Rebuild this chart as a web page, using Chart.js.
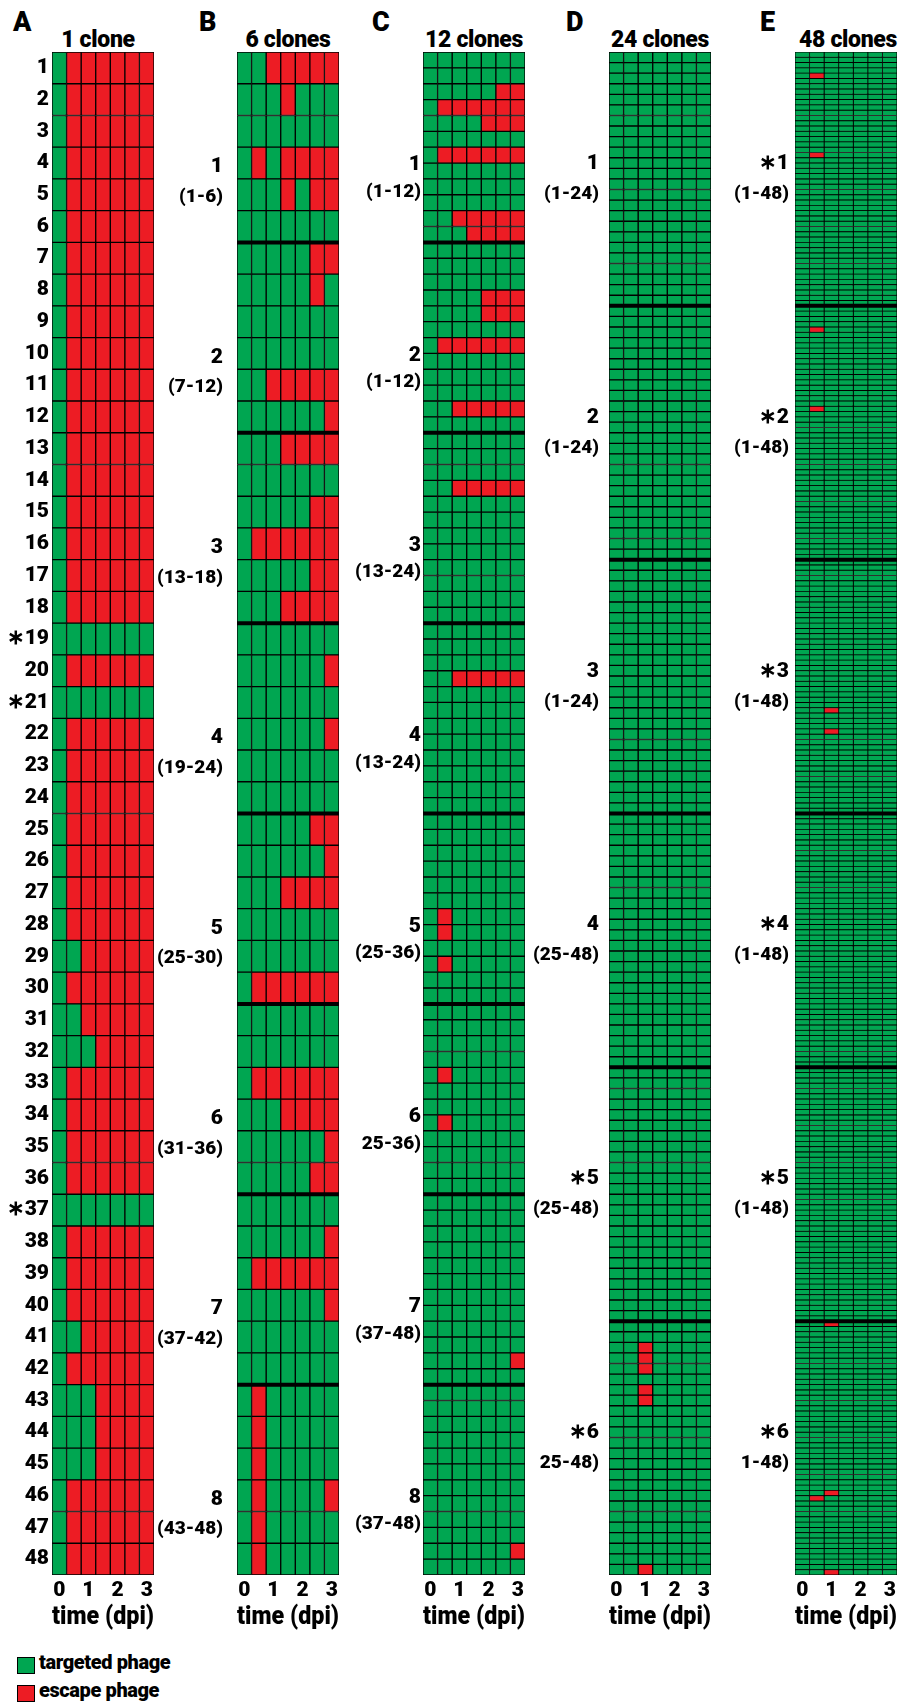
<!DOCTYPE html>
<html><head><meta charset="utf-8">
<script src="https://cdn.jsdelivr.net/npm/chart.js@4.4.1/dist/chart.umd.min.js"></script>
<style>
html,body{margin:0;padding:0;background:#fff;}
body{width:905px;height:1707px;position:relative;overflow:hidden;font-family:Roboto,"Liberation Sans",Arial,sans-serif;color:#000;}
canvas{position:absolute;top:0;}
.lt{position:absolute;font-weight:900;font-size:27px;line-height:30px;top:7px;}
.tt{position:absolute;font-weight:900;font-size:23px;line-height:26px;top:27px;width:142px;text-align:center;white-space:nowrap;letter-spacing:-0.3px;}
.lg{position:absolute;left:39px;font-weight:900;font-size:20px;line-height:24px;white-space:nowrap;letter-spacing:-0.4px;}
.sw{position:absolute;left:17px;width:16px;height:15px;border:1px solid #000;}
</style></head>
<body>
<div class="lt" style="left:13px">A</div>
<div class="lt" style="left:199px">B</div>
<div class="lt" style="left:372px">C</div>
<div class="lt" style="left:566px">D</div>
<div class="lt" style="left:760px">E</div>
<div class="tt" style="left:27px">1 clone</div>
<div class="tt" style="left:217px">6 clones</div>
<div class="tt" style="left:403px">12 clones</div>
<div class="tt" style="left:589px">24 clones</div>
<div class="tt" style="left:777px">48 clones</div>
<div class="sw" style="top:1657px;background:#00A651"></div>
<div class="lg" style="top:1650px">targeted phage</div>
<div class="sw" style="top:1685px;background:#ED1C24"></div>
<div class="lg" style="top:1678px">escape phage</div>

<canvas id="cA" width="205" height="1650" style="left:-43px"></canvas>
<canvas id="cB" width="205" height="1650" style="left:142px"></canvas>
<canvas id="cC" width="205" height="1650" style="left:328px"></canvas>
<canvas id="cD" width="205" height="1650" style="left:514px"></canvas>
<canvas id="cE" width="205" height="1650" style="left:700px"></canvas>

<script>
// ---------- data ----------
const timePoints = ['0','0.5','1','1.5','2','2.5','3'];
const tickCols = [0, 2, 4, 6];
const tickLabels = ['0', '1', '2', '3'];
const GREEN = '#00A651';
const RED = '#ED1C24';

// Panel A: 1 clone, 48 replicates (G = targeted, R = escape)
const panelA = [
 'GRRRRRR','GRRRRRR','GRRRRRR','GRRRRRR','GRRRRRR','GRRRRRR',
 'GRRRRRR','GRRRRRR','GRRRRRR','GRRRRRR','GRRRRRR','GRRRRRR',
 'GRRRRRR','GRRRRRR','GRRRRRR','GRRRRRR','GRRRRRR','GRRRRRR',
 'GGGGGGG','GRRRRRR','GGGGGGG','GRRRRRR','GRRRRRR','GRRRRRR',
 'GRRRRRR','GRRRRRR','GRRRRRR','GRRRRRR','GGRRRRR','GRRRRRR',
 'GGRRRRR','GGGRRRR','GRRRRRR','GRRRRRR','GRRRRRR','GRRRRRR',
 'GGGGGGG','GRRRRRR','GRRRRRR','GRRRRRR','GGRRRRR','GRRRRRR',
 'GGGRRRR','GGGRRRR','GGGRRRR','GRRRRRR','GRRRRRR','GRRRRRR'
];
const rowLabelsA = ['1','2','3','4','5','6','7','8','9','10','11','12','13','14','15','16',
 '17','18','\u221719','20','\u221721','22','23','24','25','26','27','28','29','30','31','32',
 '33','34','35','36','\u221737','38','39','40','41','42','43','44','45','46','47','48'];

// Panel B: 6 clones, 8 groups of 6
const panelB = [
 'GGRRRRR','GGGRGGG','GGGGGGG','GRGRRRR','GGGRGRR','GGGGGGG',
 'GGGGGRR','GGGGGRG','GGGGGGG','GGGGGGG','GGRRRRR','GGGGGGR',
 'GGGRRRR','GGGGGGG','GGGGGRR','GRRRRRR','GGGGGRR','GGGRRRR',
 'GGGGGGG','GGGGGGR','GGGGGGG','GGGGGGR','GGGGGGG','GGGGGGG',
 'GGGGGRR','GGGGGGR','GGGRRRR','GGGGGGG','GGGGGGG','GRRRRRR',
 'GGGGGGG','GGGGGGG','GRRRRRR','GGGRRRR','GGGGGGR','GGGGGRR',
 'GGGGGGG','GGGGGGR','GRRRRRR','GGGGGGR','GGGGGGG','GGGGGGG',
 'GRGGGGG','GRGGGGG','GRGGGGG','GRGGGGR','GRGGGGG','GRGGGGG'
];
const groupNumsB = ['1','2','3','4','5','6','7','8'];
const groupRangesB = ['(1-6)','(7-12)','(13-18)','(19-24)','(25-30)','(31-36)','(37-42)','(43-48)'];

// Panel C: 12 clones, 8 groups of 12 -> [group, row in group, pattern]; other rows targeted
const escapeRowsC = [
 [1,3,'GGGGGRR'],[1,4,'GRRRRRR'],[1,5,'GGGGRRR'],[1,7,'GRRRRRR'],[1,11,'GGRRRRR'],[1,12,'GGGRRRR'],
 [2,4,'GGGGRRR'],[2,5,'GGGGRRR'],[2,7,'GRRRRRR'],[2,11,'GGRRRRR'],
 [3,4,'GGRRRRR'],
 [4,4,'GGRRRRR'],
 [5,7,'GRGGGGG'],[5,8,'GRGGGGG'],[5,10,'GRGGGGG'],
 [6,5,'GRGGGGG'],[6,8,'GRGGGGG'],
 [7,11,'GGGGGGR'],
 [8,11,'GGGGGGR']
];
const groupNumsC = ['1','2','3','4','5','6','7','8'];
const groupRangesC = ['(1-12)','(1-12)','(13-24)','(13-24)','(25-36)','25-36)','(37-48)','(37-48)'];

// Panel D: 24 clones, 6 groups of 24 -> escape cells [group, row in group, time column]
const escapeCellsD = [[6,3,2],[6,4,2],[6,5,2],[6,7,2],[6,8,2],[6,24,2]];
const groupNumsD = ['1','2','3','4','\u22175','\u22176'];
const groupRangesD = ['(1-24)','(1-24)','(1-24)','(25-48)','(25-48)','25-48)'];

// Panel E: 48 clones, 6 groups of 48 -> escape cells [group, row in group, time column]
const escapeCellsE = [[1,5,1],[1,20,1],[2,5,1],[2,20,1],[3,29,2],[3,33,2],
 [6,1,2],[6,33,2],[6,34,1],[6,48,2]];
const groupNumsE = ['\u22171','\u22172','\u22173','\u22174','\u22175','\u22176'];
const groupRangesE = ['(1-48)','(1-48)','(1-48)','(1-48)','(1-48)','1-48)'];

// ---------- table building ----------
function fromRowPatterns(nGroups, perGroup, list) {
  const rows = [];
  for (let i = 0; i < nGroups * perGroup; i++) rows.push('G'.repeat(timePoints.length));
  list.forEach(([g, r, p]) => { rows[(g - 1) * perGroup + r - 1] = p; });
  return rows;
}
function fromCells(nGroups, perGroup, list) {
  const rows = fromRowPatterns(nGroups, perGroup, []).map(s => s.split(''));
  list.forEach(([g, r, c]) => { rows[(g - 1) * perGroup + r - 1][c] = 'R'; });
  return rows.map(a => a.join(''));
}

Chart.defaults.font.family = 'Roboto, "Liberation Sans", Arial, sans-serif';
Chart.defaults.color = '#000';
const W = 900;

const groupLines = {
  id: 'groupLines',
  afterDatasetsDraw(chart, args, opts) {
    if (!opts.every) return;
    const y = chart.scales.y, ctx = chart.ctx, a = chart.chartArea;
    const n = chart.data.labels.length;
    ctx.save();
    ctx.strokeStyle = '#000';
    ctx.lineWidth = 4;
    for (let k = opts.every; k < n; k += opts.every) {
      const py = (y.getPixelForValue(k - 1) + y.getPixelForValue(k)) / 2;
      ctx.beginPath(); ctx.moveTo(a.left, py); ctx.lineTo(a.right, py); ctx.stroke();
    }
    ctx.restore();
  }
};

function makePanel(id, rows, opt) {
  const n = rows.length;
  const datasets = timePoints.map((t, c) => ({
    label: t,
    data: rows.map(() => [c, c + 1]),
    backgroundColor: rows.map(r => r[c] === 'R' ? RED : GREEN),
    borderColor: '#000',
    borderWidth: opt.bw,
    borderSkipped: false,
    barPercentage: 1,
    categoryPercentage: 1,
    grouped: false
  }));
  const labels = opt.rowLabels || rows.map(() => '');
  const scales = {
    x: {
      type: 'linear', min: 0, max: timePoints.length, offset: false,
      grid: { display: false, drawTicks: false }, border: { display: false },
      afterBuildTicks: s => { s.ticks = tickCols.map(c => ({ value: c + 0.5 })); },
      ticks: { autoSkip: false, maxRotation: 0, padding: 3, color: '#000',
               font: { size: 21, weight: W }, callback: (v, i) => tickLabels[i] },
      title: { display: true, text: 'time (dpi)', color: '#000',
               font: { size: 25, weight: W }, padding: { top: 0, bottom: 17 } },
      afterFit: s => { s.height = 75; }
    },
    y: {
      type: 'category', display: !!opt.rowLabels,
      grid: { display: false, drawTicks: false }, border: { display: false },
      ticks: { autoSkip: false, padding: 3, color: '#000', font: { size: 21, weight: W } },
      afterFit: s => { s.width = opt.rowLabels ? 95 : 0; }
    }
  };
  if (opt.groups) {
    const per = opt.groups.per;
    const ticks = [];
    opt.groups.nums.forEach((t, g) => {
      ticks.push({ value: (g + opt.groups.numAt) * per, text: t, big: true });
      ticks.push({ value: (g + opt.groups.rangeAt) * per, text: opt.groups.ranges[g], big: false });
    });
    scales.yl = {
      type: 'linear', position: 'left', reverse: true, min: 0, max: n, offset: false,
      grid: { display: false, drawTicks: false, offset: false }, border: { display: false },
      afterBuildTicks: s => { s.ticks = ticks.map(t => ({ value: t.value })); },
      ticks: { autoSkip: false, padding: opt.groups.pad, color: '#000',
               callback: (v, i) => ticks[i].text,
               font: c => ({ size: (ticks[c.index] && ticks[c.index].big) ? 21 : 19, weight: W }) },
      afterFit: s => { s.width = 95; }
    };
  }
  new Chart(document.getElementById(id), {
    type: 'bar',
    data: { labels, datasets },
    options: {
      indexAxis: 'y', responsive: false, animation: false, devicePixelRatio: 1,
      layout: { padding: { top: 52, right: 8, bottom: 0, left: 0 } },
      scales,
      plugins: { legend: { display: false }, tooltip: { enabled: false },
                 groupLines: { every: opt.groups ? opt.groups.per : 0 } }
    },
    plugins: [groupLines]
  });
}

makePanel('cA', panelA, { bw: 1, rowLabels: rowLabelsA });
makePanel('cB', panelB, { bw: 1, groups: { per: 6, nums: groupNumsB, ranges: groupRangesB, numAt: 0.604, rangeAt: 0.762, pad: 14 } });
makePanel('cC', fromRowPatterns(8, 12, escapeRowsC), { bw: 1, groups: { per: 12, nums: groupNumsC, ranges: groupRangesC, numAt: 0.593, rangeAt: 0.735, pad: 2 } });
makePanel('cD', fromCells(6, 24, escapeCellsD), { bw: 1, groups: { per: 24, nums: groupNumsD, ranges: groupRangesD, numAt: 0.44, rangeAt: 0.56, pad: 10 } });
makePanel('cE', fromCells(6, 48, escapeCellsE), { bw: 0.8, groups: { per: 48, nums: groupNumsE, ranges: groupRangesE, numAt: 0.44, rangeAt: 0.56, pad: 6 } });
</script>
</body></html>
